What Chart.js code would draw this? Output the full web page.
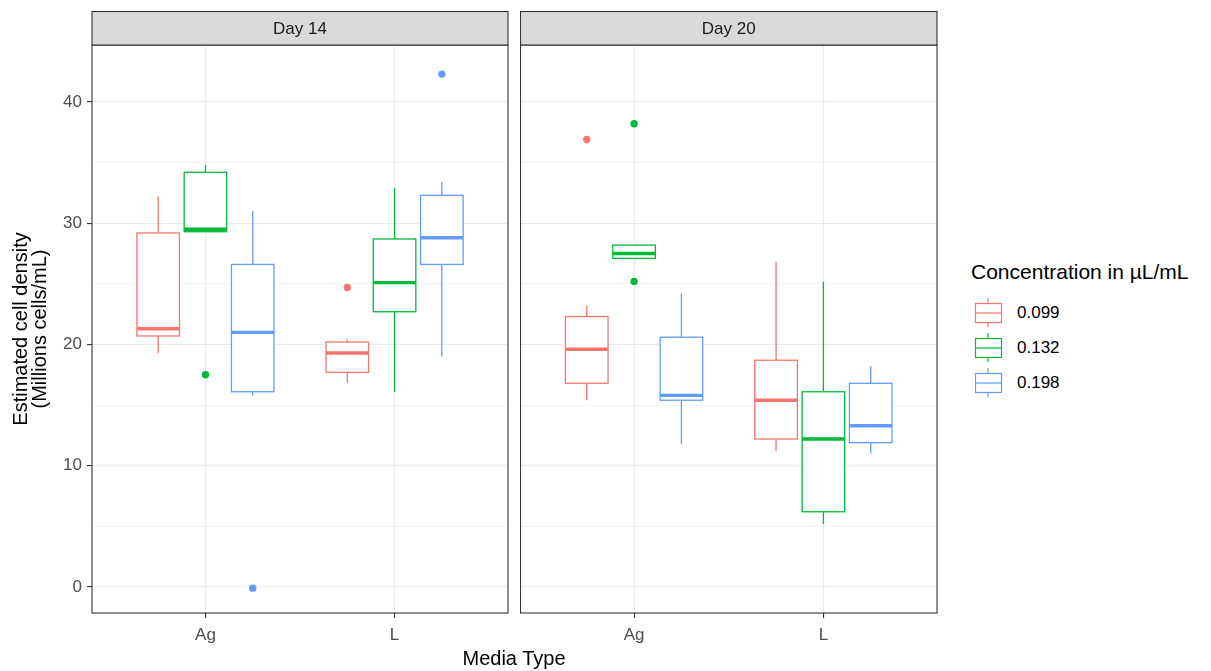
<!DOCTYPE html>
<html><head><meta charset="utf-8">
<script src="https://cdn.jsdelivr.net/npm/chart.js@4.4.1/dist/chart.umd.min.js"></script>
<style>
html,body{margin:0;padding:0;background:#fff;width:1211px;height:671px;overflow:hidden;font-family:"Liberation Sans",Arial,sans-serif;}
canvas{position:absolute;top:0;}
#c1{left:0}
#c2{left:520px}
#xtitle{position:absolute;left:414px;width:200px;top:646px;text-align:center;font-size:20px;color:#000;line-height:24px;white-space:nowrap}
#legTitle{position:absolute;left:971px;top:260px;font-size:21px;line-height:24px;color:#000;white-space:nowrap}
.legRow{position:absolute;left:970px;height:34px;}
.legRow canvas{position:absolute;left:0;top:0}
.legRow span{position:absolute;left:47px;top:7px;font-size:17px;line-height:20px;color:#000;white-space:nowrap}
</style></head>
<body>
<canvas id="c1" width="509" height="671"></canvas>
<canvas id="c2" width="418" height="671"></canvas>
<div id="xtitle">Media Type</div>
<div id="legTitle">Concentration in µL/mL</div>
<div id="legend"></div>
<script>
// ---- data ----
const mediaTypes = ['Ag', 'L'];
const days = ['Day 14', 'Day 20'];
const concentrations = ['0.099', '0.132', '0.198'];
const yTicks = [0, 10, 20, 30, 40];
const yMinorTicks = [5, 15, 25, 35];

// box stats per media type: [lower whisker, Q1, median, Q3, upper whisker]
const d14_099 = [[19.3, 20.7, 21.3, 29.2, 32.2], [16.8, 17.7, 19.3, 20.2, 20.4]];
const d14_132 = [[29.3, 29.3, 29.5, 34.2, 34.8], [16.1, 22.7, 25.1, 28.7, 32.9]];
const d14_198 = [[15.8, 16.1, 21.0, 26.6, 31.0], [19.0, 26.6, 28.8, 32.3, 33.4]];
const d20_099 = [[15.4, 16.8, 19.6, 22.3, 23.2], [11.2, 12.2, 15.4, 18.7, 26.8]];
const d20_132 = [[27.1, 27.1, 27.5, 28.2, 28.2], [5.2, 6.2, 12.2, 16.1, 25.2]];
const d20_198 = [[11.8, 15.4, 15.8, 20.6, 24.2], [11.0, 11.9, 13.3, 16.8, 18.2]];
// outliers per media type
const d14_099_out = [[], [24.7]];
const d14_132_out = [[17.5], []];
const d14_198_out = [[-0.1], [42.3]];
const d20_099_out = [[36.9], []];
const d20_132_out = [[38.2, 25.2], []];
const d20_198_out = [[], []];

// ---- styles ----
const colors = ['#F8766D', '#00BA38', '#619CFF'];
const dodge = [-0.25, 0, 0.25];
const boxWidth = 0.225;
const yMin = -2.15, yMax = 44.7;
const FONT = "'Liberation Sans', Arial, sans-serif";
Chart.defaults.font.family = FONT;

const dayStats = [[d14_099, d14_132, d14_198], [d20_099, d20_132, d20_198]];
const dayOutliers = [[d14_099_out, d14_132_out, d14_198_out], [d20_099_out, d20_132_out, d20_198_out]];

function boxPlugin(dayIdx) {
  return {
    id: 'boxes' + dayIdx,
    beforeDatasetsDraw(chart) {
      const ctx = chart.ctx, xs = chart.scales.x, ys = chart.scales.y;
      const half = (xs.getPixelForValue(boxWidth) - xs.getPixelForValue(0)) / 2;
      ctx.save();
      dayStats[dayIdx].forEach((series, ci) => {
        series.forEach((s, mi) => {
          const xc = xs.getPixelForValue(mi + 1 + dodge[ci]);
          const y = v => ys.getPixelForValue(v);
          ctx.strokeStyle = colors[ci];
          ctx.lineWidth = 1.3;
          ctx.beginPath();
          ctx.moveTo(xc, y(s[0])); ctx.lineTo(xc, y(s[1]));
          ctx.moveTo(xc, y(s[3])); ctx.lineTo(xc, y(s[4]));
          ctx.stroke();
          ctx.fillStyle = '#fff';
          ctx.fillRect(xc - half, y(s[3]), 2 * half, y(s[1]) - y(s[3]));
          ctx.strokeRect(xc - half, y(s[3]), 2 * half, y(s[1]) - y(s[3]));
          ctx.lineWidth = 3.4;
          ctx.beginPath();
          ctx.moveTo(xc - half, y(s[2])); ctx.lineTo(xc + half, y(s[2]));
          ctx.stroke();
        });
      });
      ctx.restore();
    },
    afterDraw(chart) {
      const ctx = chart.ctx, a = chart.chartArea;
      ctx.save();
      ctx.strokeStyle = '#333333';
      ctx.lineWidth = 1.1;
      ctx.strokeRect(a.left, a.top, a.right - a.left, a.bottom - a.top);
      const stripTop = 11.5;
      ctx.fillStyle = '#D9D9D9';
      ctx.fillRect(a.left, stripTop, a.right - a.left, a.top - stripTop);
      ctx.strokeRect(a.left, stripTop, a.right - a.left, a.top - stripTop);
      ctx.fillStyle = '#1A1A1A';
      ctx.font = '17px ' + FONT;
      ctx.textAlign = 'center';
      ctx.textBaseline = 'middle';
      ctx.fillText(days[dayIdx], (a.left + a.right) / 2, (stripTop + a.top) / 2 + 1.5);
      ctx.restore();
    }
  };
}

function makePanel(canvasId, dayIdx, showY) {
  const datasets = concentrations.map((c, ci) => ({
    type: 'scatter',
    label: c,
    data: dayOutliers[dayIdx][ci].flatMap((list, mi) => list.map(v => ({ x: mi + 1 + dodge[ci], y: v }))),
    backgroundColor: colors[ci],
    borderColor: colors[ci],
    borderWidth: 0,
    pointRadius: 3.7,
    pointHoverRadius: 3.7
  }));
  const isMajor = v => yTicks.includes(v);
  return new Chart(document.getElementById(canvasId), {
    type: 'scatter',
    data: { datasets },
    options: {
      responsive: false,
      animation: false,
      events: [],
      layout: { autoPadding: false, padding: { top: 45, right: 1, left: 0, bottom: 0 } },
      plugins: { legend: { display: false }, tooltip: { enabled: false } },
      scales: {
        x: {
          type: 'linear', min: 0.4, max: 2.6,
          afterBuildTicks: s => { s.ticks = mediaTypes.map((m, i) => ({ value: i + 1 })); },
          afterFit: s => { s.height = 58; },
          ticks: {
            callback: (v, i) => mediaTypes[i],
            font: { size: 17 }, color: '#4D4D4D', padding: 7, autoSkip: false, maxRotation: 0
          },
          grid: { color: '#EBEBEB', lineWidth: 1.1, tickColor: '#333333', tickLength: 5 },
          border: { display: false }
        },
        y: {
          type: 'linear', min: yMin, max: yMax,
          afterBuildTicks: s => { s.ticks = yTicks.concat(yMinorTicks).sort((a, b) => a - b).map(v => ({ value: v })); },
          afterFit: s => { s.width = showY ? 92 : 0.5; },
          ticks: {
            display: showY,
            callback: v => isMajor(v) ? String(v) : '',
            font: { size: 17 }, color: '#4D4D4D', padding: 5, autoSkip: false
          },
          grid: {
            color: '#EBEBEB',
            lineWidth: c => (c.tick && isMajor(c.tick.value)) ? 1.1 : 0.55,
            tickColor: c => (c.tick && isMajor(c.tick.value)) ? '#333333' : 'rgba(0,0,0,0)',
            tickLength: 5,
            drawTicks: showY
          },
          border: { display: false },
          title: {
            display: showY,
            text: ['Estimated cell density', '(Millions cells/mL)'],
            font: { size: 20, lineHeight: 0.96 },
            color: '#000',
            padding: { top: 11.5, bottom: 0 }
          }
        }
      }
    },
    plugins: [boxPlugin(dayIdx)]
  });
}

makePanel('c1', 0, true);
makePanel('c2', 1, false);

// legend
const leg = document.getElementById('legend');
concentrations.forEach((c, ci) => {
  const row = document.createElement('div');
  row.className = 'legRow';
  row.style.top = (295.5 + ci * 35) + 'px';
  const cv = document.createElement('canvas');
  cv.width = 34; cv.height = 34;
  const g = cv.getContext('2d');
  g.strokeStyle = colors[ci];
  g.lineWidth = 1.2;
  g.beginPath();
  g.moveTo(18, 2); g.lineTo(18, 31);
  g.stroke();
  g.fillStyle = '#fff';
  g.fillRect(5.5, 7.5, 26, 19);
  g.strokeRect(5.5, 7.5, 26, 19);
  g.beginPath();
  g.moveTo(5.5, 17); g.lineTo(31.5, 17);
  g.stroke();
  const sp = document.createElement('span');
  sp.textContent = c;
  row.appendChild(cv); row.appendChild(sp);
  leg.appendChild(row);
});
</script>
</body></html>
